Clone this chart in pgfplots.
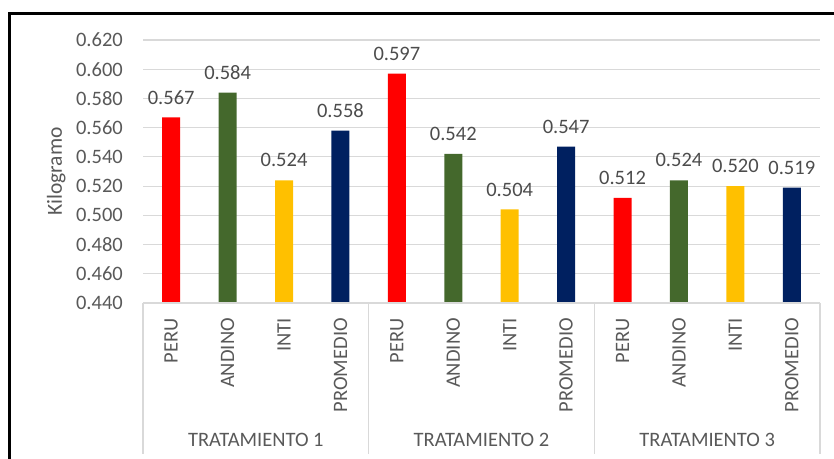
\documentclass[border=0pt]{standalone}
\usepackage{fontspec}
\setmainfont{Carlito}
\usepackage{pgfplots}
\pgfplotsset{compat=1.18}

\definecolor{cPeru}{HTML}{FF0000}
\definecolor{cAndino}{HTML}{44682C}
\definecolor{cInti}{HTML}{FFC000}
\definecolor{cProm}{HTML}{002060}
\definecolor{txtgray}{HTML}{595959}
\definecolor{gridgray}{HTML}{D9D9D9}

\begin{document}
\begin{tikzpicture}
\useasboundingbox (0bp,0bp) rectangle (834bp,459bp);
\begin{scope}
  \clip (0bp,0bp) rectangle (834bp,459bp);
  \draw[line width=2.6bp] (9.5bp,-5bp) -- (9.5bp,445.7bp) -- (840bp,445.7bp);
\end{scope}
\begin{axis}[
  at={(143bp,156bp)}, anchor=south west,
  scale only axis, width=677bp, height=263bp,
  xmin=-0.5, xmax=11.5, ymin=0.44, ymax=0.62,
  axis line style={draw=none},
  major tick length=0pt,
  ytick={0.44,0.46,...,0.621},
  yticklabel={\pgfmathprintnumber[fixed,fixed zerofill,precision=3,assume math mode=true]{\tick}},
  yticklabel style={font=\fontsize{20.5bp}{22bp}\selectfont, text=txtgray, anchor=east, inner sep=0pt},
  yticklabel shift=20bp,
  ymajorgrids, grid style={gridgray, line width=1.1bp},
  xtick={0,...,11},
  xticklabels={PERU,ANDINO,INTI,PROMEDIO,PERU,ANDINO,INTI,PROMEDIO,PERU,ANDINO,INTI,PROMEDIO},
  xticklabel style={font=\fontsize{20.5bp}{22bp}\selectfont, text=txtgray, rotate=90, anchor=east, inner sep=0pt},
  xticklabel shift=15bp,
  ylabel={Kilogramo},
  every axis y label/.style={at={(axis description cs:-0.128,0.5)}, rotate=90, anchor=center, font=\fontsize{21.5bp}{23bp}\selectfont, text=txtgray},
  every axis plot/.append style={ybar, bar width=18bp, bar shift=0pt, draw=none},
  nodes near coords={\pgfmathprintnumber[fixed,fixed zerofill,precision=3,assume math mode=true]{\pgfplotspointmeta}},
  every node near coord/.append style={font=\fontsize{20.5bp}{22bp}\selectfont, text=txtgray!85!black, anchor=south, inner sep=0pt, yshift=13bp},
  clip=false,
]
\addplot[fill=cPeru]   coordinates {(0,0.567) (4,0.597) (8,0.512)};
\addplot[fill=cAndino] coordinates {(1,0.584) (5,0.542) (9,0.524)};
\addplot[fill=cInti]   coordinates {(2,0.524) (6,0.504) (10,0.520)};
\addplot[fill=cProm]   coordinates {(3,0.558) (7,0.547) (11,0.519)};

\coordinate (s0) at (axis cs:-0.5,0.44);
\coordinate (s1) at (axis cs:3.5,0.44);
\coordinate (s2) at (axis cs:7.5,0.44);
\coordinate (s3) at (axis cs:11.5,0.44);
\coordinate (g1) at (axis cs:1.5,0.44);
\coordinate (g2) at (axis cs:5.5,0.44);
\coordinate (g3) at (axis cs:9.5,0.44);
\end{axis}
\begin{scope}[gridgray, line width=1.1bp]
  \draw (s0) -- (s3);
  \foreach \s in {s0,s1,s2,s3} \draw (\s) -- (\s |- 0bp,5bp);
\end{scope}
\foreach \g/\t in {g1/1,g2/2,g3/3}
  \node[font=\fontsize{20.5bp}{22bp}\selectfont, text=txtgray] at (\g |- 0bp,19bp) {TRATAMIENTO \t};
\end{tikzpicture}
\end{document}
